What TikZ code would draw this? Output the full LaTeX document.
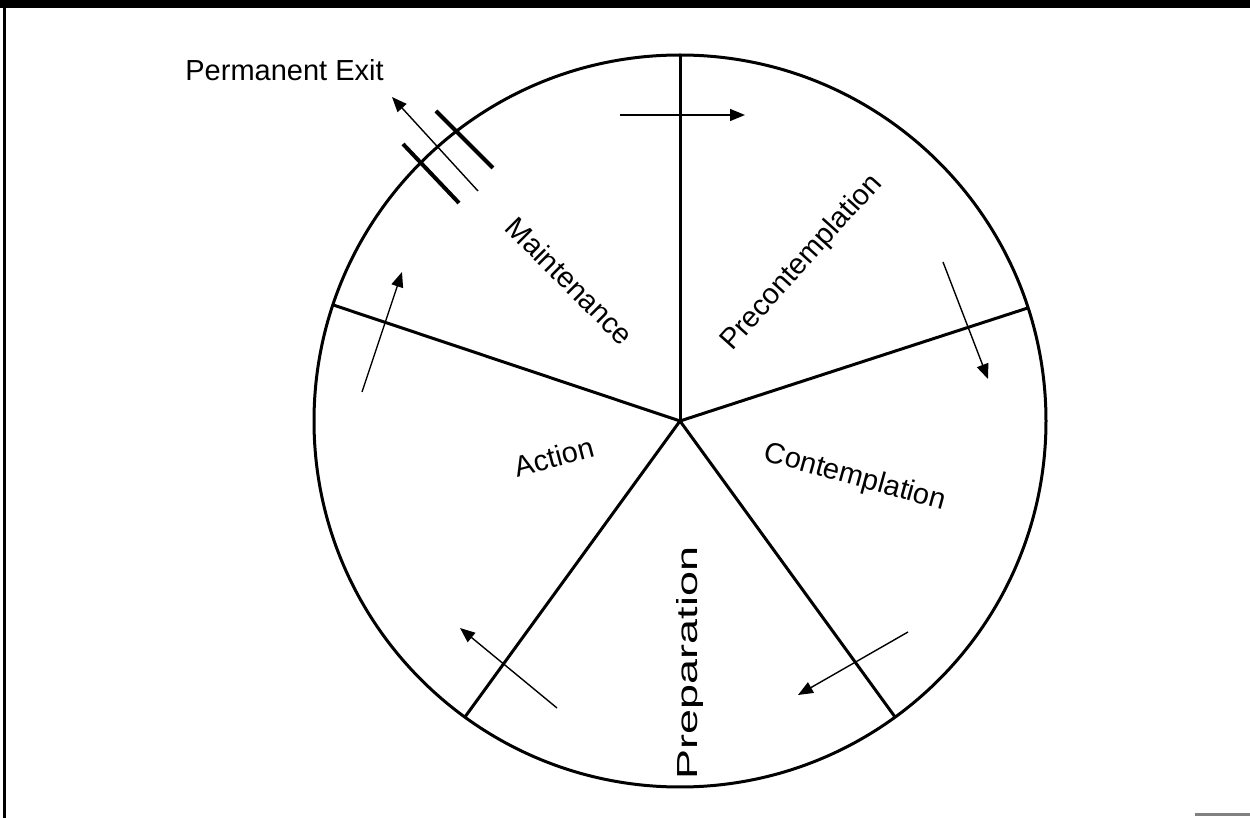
\documentclass[tikz,border=0pt]{standalone}
\usepackage{fontspec}
\setmainfont{Liberation Sans}
\usetikzlibrary{arrows.meta,calc}
\begin{document}
\begin{tikzpicture}[x=0.5pt,y=-0.5pt,
  rim/.style={line width=1.5pt},
  flow/.style={line width=0.7pt,-{Triangle[length=7.5pt,width=6pt]}},
  hashmark/.style={line width=2pt},
  lbl/.style={font=\fontsize{14.5pt}{17pt}\selectfont, inner sep=0pt}]
\useasboundingbox (0,0) rectangle (1250,818);
% frame
\fill (0,0) rectangle (1250,8);
\draw[line width=1.5pt] (4.5,0) -- (4.5,818);
\draw[gray,line width=1.5pt] (1195,815) -- (1250,815);
% wheel
\coordinate (c) at (680,421);
\draw[rim] (c) circle[radius=183pt];
\path (c) ++(90:183pt) coordinate (s1);
\path (c) ++(18:183pt) coordinate (s2);
\path (c) ++(-54:183pt) coordinate (s3);
\path (c) ++(-126:183pt) coordinate (s4);
\path (c) ++(161.5:183pt) coordinate (s5);
\foreach \s in {s1,s2,s3,s4,s5} \draw[rim] (c) -- (\s);
% labels
\node[lbl, rotate=-45] (maint) at (570,281) {Maintenance};
\node[lbl, rotate=48] (precon) at (802,263) {Precontemplation};
\node[lbl, rotate=-15.5] (contem) at (855,478) {Contemplation};
\node[lbl, rotate=90] (prep) at (690,663) {\scalebox{1.55}[1]{Preparation}};
\node[lbl, rotate=15] (action) at (554,457) {Action};
\node[lbl, anchor=west] (exit) at (185,70) {Permanent Exit};
% flow arrows
\coordinate (a1s) at (620,115); \coordinate (a1e) at (745,115);
\coordinate (a2s) at (943,262); \coordinate (a2e) at (988,379);
\coordinate (a3s) at (908,632); \coordinate (a3e) at (798,695);
\coordinate (a4s) at (557,708); \coordinate (a4e) at (460,628);
\coordinate (a5s) at (362,392); \coordinate (a5e) at (402,272);
\coordinate (a6s) at (478,191); \coordinate (a6e) at (392,97);
\draw[flow] (a1s) -- (a1e);
\draw[flow] (a2s) -- (a2e);
\draw[flow] (a3s) -- (a3e);
\draw[flow] (a4s) -- (a4e);
\draw[flow] (a5s) -- (a5e);
\draw[flow] (a6s) -- (a6e);
% exit bars
\coordinate (h1s) at (436,111); \coordinate (h1e) at (493,168);
\coordinate (h2s) at (403,144); \coordinate (h2e) at (459,203);
\draw[hashmark] (h1s) -- (h1e);
\draw[hashmark] (h2s) -- (h2e);
\end{tikzpicture}
\end{document}
